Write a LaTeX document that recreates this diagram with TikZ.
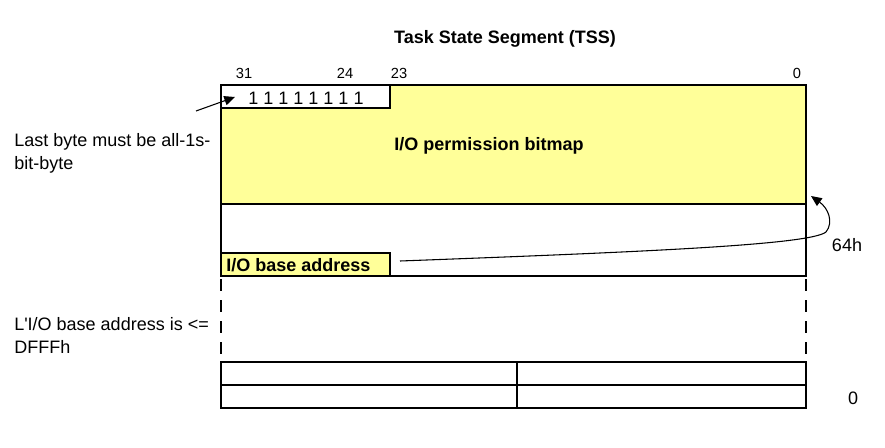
\documentclass[tikz,border=0pt]{standalone}
\usepackage{fontspec}
\setmainfont{Liberation Sans}[Ligatures=TeXOff]
\usetikzlibrary{arrows.meta}
\definecolor{bmyellow}{RGB}{255,255,153}
\tikzset{
  bitlabel/.style={font=\fontsize{11}{13}\selectfont},
  boldlabel/.style={font=\fontsize{13.5}{16}\selectfont\bfseries},
  note/.style={align=left,anchor=north west,inner sep=0pt,font=\fontsize{13.5}{17.25}\selectfont},
  breakline/.style={line width=2.2pt,dash pattern=on 9pt off 6.75pt}
}
\begin{document}
\begin{tikzpicture}[x=0.75pt,y=-0.75pt,every node/.style={font=\fontsize{13.5}{16}\selectfont}]
\useasboundingbox (0,0) rectangle (885,447);
\node[boldlabel] (title) at (505,39) {Task State Segment (TSS)};
% bit numbers
\node[bitlabel] (b31) at (244,73) {31};
\node[bitlabel] (b24) at (345,73) {24};
\node[bitlabel] (b23) at (399,73) {23};
\node[bitlabel] (b0) at (797,73) {0};
% bitmap area
\fill[bmyellow] (221,85) rectangle (806,204);
\draw[line width=1.3pt] (221,85) rectangle (806,276);
\draw[line width=0.8pt] (221,204) -- (806,204);
\draw[line width=1pt,fill=white] (221,85) rectangle (390,108);
\node (ones) at (306,98) {1 1 1 1 1 1 1 1};
\node[boldlabel] (bitmap) at (489,146) {I/O permission bitmap};
\draw[line width=1pt,fill=bmyellow] (221,253) rectangle (390,276);
\node[boldlabel,anchor=west,inner sep=0pt] (iobase) at (226,265) {I/O base address};
% notes on the left
\node[note] (lastbyte) at (14,133) {Last byte must be all-1s-\\bit-byte};
\node[note] (limit) at (14,317) {L'I/O base address is <=\\DFFFh};
\coordinate (lastbytetail) at (196,111);
\coordinate (lastbytetip) at (235,97);
\draw[-{Triangle[length=8pt,width=7pt]},line width=0.8pt] (lastbytetail) -- (lastbytetip);
% offset of the bitmap
\coordinate (basetail) at (400,261);
\coordinate (basetip) at (811,196);
\draw[-{Triangle[length=8pt,width=7pt]},line width=0.8pt] (basetail) .. controls (640,252) and (810,245) .. (826,232) .. controls (834,222) and (828,208) .. (basetip);
\node (off) at (847,245) {64h};
% omitted part
\draw[breakline] (221,279) -- (221,355);
\draw[breakline] (806,279) -- (806,355);
% bottom of the segment
\draw[line width=1.3pt] (221,362) rectangle (806,408);
\draw[line width=0.8pt] (221,385) -- (806,385);
\draw[line width=0.8pt] (517,362) -- (517,408);
\node (zero) at (853,398) {0};
\end{tikzpicture}
\end{document}
